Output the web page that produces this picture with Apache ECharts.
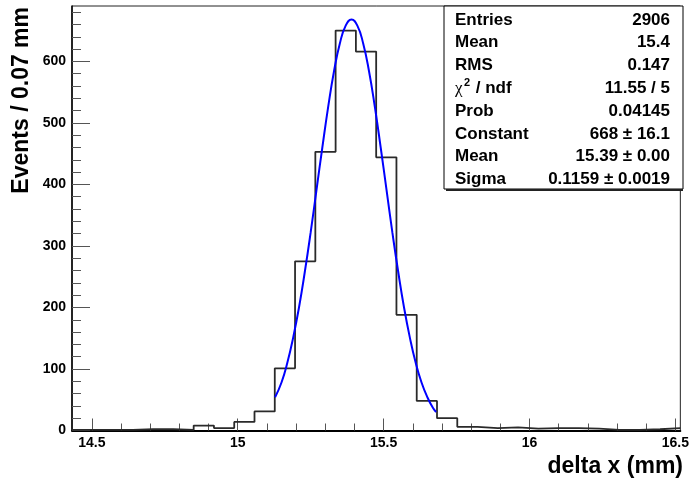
<!DOCTYPE html>
<html><head><meta charset="utf-8">
<script src="https://cdn.jsdelivr.net/npm/echarts@6/dist/echarts.min.js"></script>
<style>html,body{margin:0;padding:0;background:#fff}#c{width:692px;height:482px}</style>
</head><body><div id="c"></div>
<script>
// ---- data ----
const histRange = [14.432, 16.517];
const counts = [1, 1, 1, 2, 2, 1, 8, 4, 14, 31, 101, 275, 453, 650, 616, 444, 188, 48, 20, 6, 4, 5, 3, 4, 4, 3, 1, 1, 2, 4];
const fitX = [15.128, 15.15, 15.17, 15.19, 15.21, 15.23, 15.25, 15.27, 15.29, 15.31, 15.33, 15.35, 15.37, 15.39, 15.41, 15.43, 15.45, 15.47, 15.49, 15.51, 15.53, 15.55, 15.57, 15.59, 15.61, 15.63, 15.65, 15.67, 15.68];
const fitY = [54, 78, 110, 151, 200, 258, 322, 391, 460, 526, 584, 629, 658, 668, 658, 629, 584, 526, 460, 391, 322, 258, 200, 151, 110, 78, 54, 36, 30];
const xTickLabels = [14.5, 15, 15.5, 16, 16.5];
const xMinorTicks = [14.5, 14.6, 14.7, 14.8, 14.9, 15, 15.1, 15.2, 15.3, 15.4, 15.5, 15.6, 15.7, 15.8, 15.9, 16, 16.1, 16.2, 16.3, 16.4, 16.5];
const yTickLabels = [0, 100, 200, 300, 400, 500, 600];
const yMinorTicks = [20, 40, 60, 80, 120, 140, 160, 180, 220, 240, 260, 280, 320, 340, 360, 380, 420, 440, 460, 480, 520, 540, 560, 580, 620, 640, 660, 680];
const yMax = 690;
const statsLabels = ['Entries', 'Mean', 'RMS', 'χ', 'Prob', 'Constant', 'Mean', 'Sigma'];
const statsValues = ['2906', '15.4', '0.147', '11.55 / 5', '0.04145', '668 ± 16.1', '15.39 ± 0.00', '0.1159 ± 0.0019'];
const xTitle = 'delta x (mm)';
const yTitle = 'Events / 0.07 mm';

// ---- build ----
const binW = (histRange[1] - histRange[0]) / counts.length;
const histPts = counts.map((c, i) => [histRange[0] + i * binW, c]);
histPts.push([histRange[1], counts[counts.length - 1]]);
const fitPts = fitX.map((x, i) => [x, fitY[i]]);

const FONT = 'Liberation Sans, Arial, sans-serif';
const chart = echarts.init(document.getElementById('c'), null, {renderer: 'canvas'});

const graphics = [];
graphics.push({type: 'rect', z: 100, shape: {x: 444, y: 6, width: 239, height: 183},
  style: {fill: '#fff', stroke: '#000', lineWidth: 1}});
graphics.push({type: 'line', z: 101, shape: {x1: 446, y1: 190, x2: 683, y2: 190},
  style: {stroke: '#222', lineWidth: 2}});
statsLabels.forEach((lab, i) => {
  const y = 20 + i * 22.8;
  if (lab === 'χ') {
    graphics.push({type: 'text', z: 102, x: 455, y: y,
      style: {text: 'χ', font: 'normal 17px Liberation Serif, serif', fill: '#000', textVerticalAlign: 'middle'}});
    graphics.push({type: 'text', z: 102, x: 464, y: y - 5,
      style: {text: '2', font: 'bold 11px ' + FONT, fill: '#000', textVerticalAlign: 'middle'}});
    graphics.push({type: 'text', z: 102, x: 471, y: y,
      style: {text: ' / ndf', font: 'bold 17px ' + FONT, fill: '#000', textVerticalAlign: 'middle'}});
  } else {
    graphics.push({type: 'text', z: 102, x: 455, y: y,
      style: {text: lab, font: 'bold 17px ' + FONT, fill: '#000', textVerticalAlign: 'middle'}});
  }
  graphics.push({type: 'text', z: 102, x: 670, y: y,
    style: {text: statsValues[i], font: 'bold 17px ' + FONT, fill: '#000', textAlign: 'right', textVerticalAlign: 'middle'}});
});
graphics.push({type: 'text', z: 102, x: 683, y: 467,
  style: {text: xTitle, font: 'bold 23px ' + FONT, fill: '#000', textAlign: 'right', textVerticalAlign: 'middle'}});
graphics.push({type: 'text', z: 102, x: 22, y: 7, rotation: Math.PI / 2,
  style: {text: yTitle, font: 'bold 23px ' + FONT, fill: '#000', textAlign: 'right', textVerticalAlign: 'middle'}});

const labelStyle = {fontSize: 14, fontWeight: 'bold', color: '#000', fontFamily: FONT};

chart.setOption({
  animation: false,
  backgroundColor: '#fff',
  grid: {left: 72, top: 6, right: 9, bottom: 51.5, show: true, borderColor: '#222', borderWidth: 1, backgroundColor: 'transparent'},
  xAxis: [
    {type: 'value', min: histRange[0], max: histRange[1], gridIndex: 0,
      axisLine: {show: true, onZero: false, lineStyle: {color: '#000', width: 2}},
      axisTick: {show: true, inside: true, length: 12, customValues: xTickLabels, lineStyle: {color: '#555', width: 1}},
      axisLabel: Object.assign({show: true, margin: 6, customValues: xTickLabels, formatter: v => String(v)}, labelStyle),
      splitLine: {show: false}},
    {type: 'value', min: histRange[0], max: histRange[1], gridIndex: 0, position: 'bottom',
      axisLine: {show: false},
      axisTick: {show: true, inside: true, length: 7, customValues: xMinorTicks, lineStyle: {color: '#555', width: 1}},
      axisLabel: {show: false}, splitLine: {show: false}}
  ],
  yAxis: [
    {type: 'value', min: 0, max: yMax, gridIndex: 0,
      axisLine: {show: true, onZero: false, lineStyle: {color: '#000', width: 1.5}},
      axisTick: {show: true, inside: true, length: 18, customValues: yTickLabels, lineStyle: {color: '#555', width: 1}},
      axisLabel: Object.assign({show: true, margin: 6, customValues: yTickLabels}, labelStyle),
      splitLine: {show: false}},
    {type: 'value', min: 0, max: yMax, gridIndex: 0, position: 'left',
      axisLine: {show: false},
      axisTick: {show: true, inside: true, length: 9, customValues: yMinorTicks, lineStyle: {color: '#555', width: 1}},
      axisLabel: {show: false}, splitLine: {show: false}}
  ],
  series: [
    {type: 'line', name: 'hist', data: histPts, step: 'end', symbol: 'none', xAxisIndex: 0, yAxisIndex: 0,
      lineStyle: {color: '#2a2a2a', width: 1.8}, z: 5},
    {type: 'line', name: 'fit', data: fitPts, smooth: true, symbol: 'none', xAxisIndex: 0, yAxisIndex: 0,
      lineStyle: {color: '#0000ff', width: 2}, z: 6}
  ],
  graphic: graphics
});
</script></body></html>
